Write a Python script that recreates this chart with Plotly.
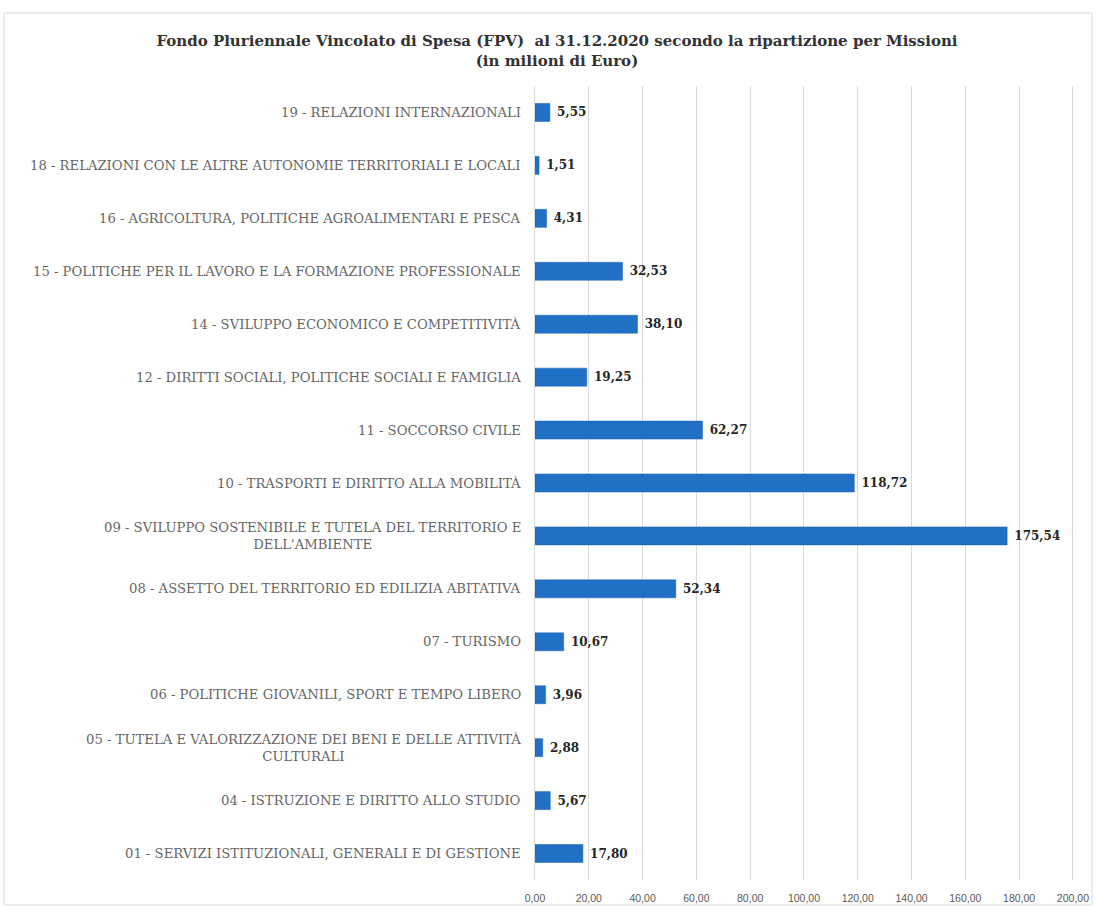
import plotly.graph_objects as go

categories = [
    "01 - SERVIZI ISTITUZIONALI, GENERALI E DI GESTIONE",
    "04 - ISTRUZIONE E DIRITTO ALLO STUDIO",
    "05 - TUTELA E VALORIZZAZIONE DEI BENI E DELLE ATTIVITÀ<br>CULTURALI",
    "06 - POLITICHE GIOVANILI, SPORT E TEMPO LIBERO",
    "07 - TURISMO",
    "08 - ASSETTO DEL TERRITORIO ED EDILIZIA ABITATIVA",
    "09 - SVILUPPO SOSTENIBILE E TUTELA DEL TERRITORIO E<br>DELL'AMBIENTE",
    "10 - TRASPORTI E DIRITTO ALLA MOBILITÀ",
    "11 - SOCCORSO CIVILE",
    "12 - DIRITTI SOCIALI, POLITICHE SOCIALI E FAMIGLIA",
    "14 - SVILUPPO ECONOMICO E COMPETITIVITÀ",
    "15 - POLITICHE PER IL LAVORO E LA FORMAZIONE PROFESSIONALE",
    "16 - AGRICOLTURA, POLITICHE AGROALIMENTARI E PESCA",
    "18 - RELAZIONI CON LE ALTRE AUTONOMIE TERRITORIALI E LOCALI",
    "19 - RELAZIONI INTERNAZIONALI",
]
values = [17.80, 5.67, 2.88, 3.96, 10.67, 52.34, 175.54, 118.72, 62.27,
          19.25, 38.10, 32.53, 4.31, 1.51, 5.55]
x_ticks = [0, 20, 40, 60, 80, 100, 120, 140, 160, 180, 200]

W, H = 1096, 906
L, R, T, B = 535, 22, 86, 26
pw, ph = W - L - R, H - T - B

def it(v):
    return f"{v:.2f}".replace(".", ",")

def px_x(px):
    return (px - L) / pw

def px_y(py):
    return (H - B - py) / ph

fig = go.Figure()
fig.add_trace(go.Bar(
    x=values, y=categories, orientation="h",
    marker=dict(color="#2070C6", line=dict(color="#1A5FAE", width=0.5)),
    text=["<b> " + it(v) + "</b>" for v in values],
    textposition="outside", cliponaxis=False,
    textfont=dict(family="DejaVu Serif", size=12, color="#262626"),
))

# category labels (centered multi-line like the original)
for c in categories:
    fig.add_annotation(
        x=0, xref="paper", y=c, yref="y", xanchor="right", xshift=-12,
        text=c, showarrow=False, align="center",
        font=dict(family="DejaVu Serif", size=13.2, color="#666666"),
    )

fig.update_layout(
    width=W, height=H,
    margin=dict(l=L, r=R, t=T, b=B, autoexpand=False),
    paper_bgcolor="white", plot_bgcolor="white",
    bargap=0.66, showlegend=False,
    title=dict(
        text="<b>Fondo Pluriennale Vincolato di Spesa (FPV)  al 31.12.2020 secondo la ripartizione per Missioni<br>(in milioni di Euro)</b>",
        x=557 / W, xanchor="center", y=1 - 46 / H, yanchor="middle",
        font=dict(family="DejaVu Serif", size=15, color="#333333"),
    ),
    xaxis=dict(
        range=[0, 200.4], tickvals=x_ticks,
        ticktext=[it(v) for v in x_ticks],
        showgrid=True, gridcolor="#d9d9d9", gridwidth=1,
        zeroline=False, showline=False, automargin=False,
        ticklabeloverflow="allow",
        tickfont=dict(family="Liberation Sans", size=10.5, color="#595959"),
        ticks="outside", ticklen=8, tickcolor="rgba(0,0,0,0)",
    ),
    yaxis=dict(
        showticklabels=False, showgrid=False, zeroline=False, automargin=False,
        showline=True, linecolor="#d9d9d9", ticks="",
    ),
    shapes=[dict(
        type="rect", xref="paper", yref="paper",
        x0=px_x(4), x1=px_x(1092), y0=px_y(905), y1=px_y(13),
        line=dict(color="#d9d9d9", width=1), fillcolor="rgba(0,0,0,0)",
    )],
)

fig.write_html(
    "out.html",
    config={"displayModeBar": False},
    post_script="document.body.style.margin='0';",
)
